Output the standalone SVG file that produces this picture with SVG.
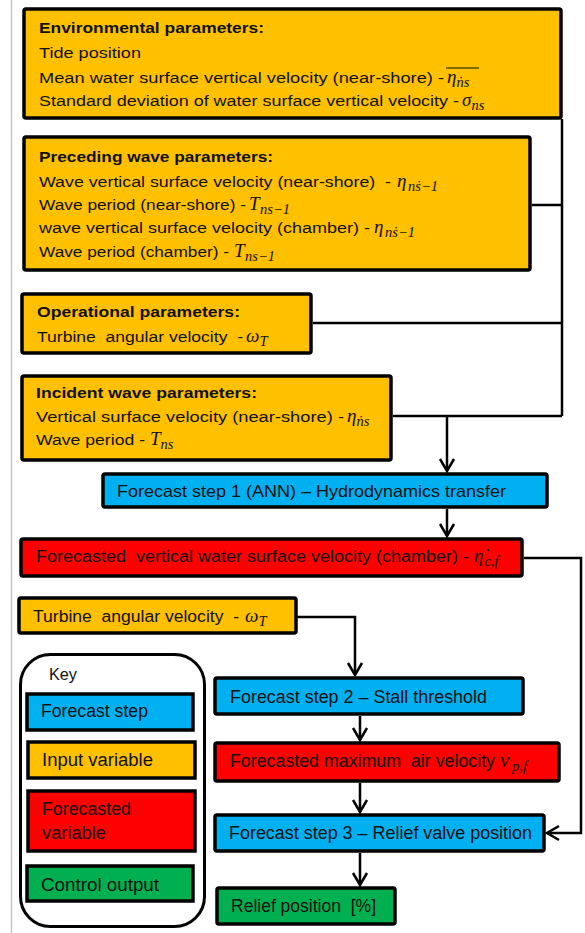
<svg xmlns="http://www.w3.org/2000/svg" width="585" height="933" viewBox="0 0 585 933">
<style>
.box{stroke:#000;stroke-width:3.5}
.or{fill:#FFC000}.bl{fill:#00B0F0}.rd{fill:#FF0000}.gr{fill:#00B050}
.t{font-family:"Liberation Sans",Arial,sans-serif;font-size:15.5px;fill:#111;white-space:pre}
.b{font-family:"Liberation Sans",Arial,sans-serif;font-size:15px;font-weight:bold;fill:#111;white-space:pre}
.k{font-family:"Liberation Sans",Arial,sans-serif;font-size:18px;fill:#111;white-space:pre}
.m{font-family:"Liberation Serif","Times New Roman",serif;font-style:italic;font-size:19px;fill:#111}
.s{font-family:"Liberation Serif","Times New Roman",serif;font-style:italic;font-size:14.5px;fill:#111}
.c{fill:none;stroke:#000;stroke-width:2.5}
</style>
<defs>
<marker id="ah" markerUnits="userSpaceOnUse" markerWidth="16" markerHeight="18" refX="13" refY="8" orient="auto" viewBox="0 0 16 16">
<path d="M1,1 L13,8 L1,15" fill="none" stroke="#000" stroke-width="2.5"/>
</marker>
</defs>
<line x1="11.5" y1="0" x2="11.5" y2="933" stroke="#c4c6cc" stroke-width="1.5"/>

<g id="connectors">
<path class="c" d="M562,119 V416"/>
<path class="c" d="M532,205 H562"/>
<path class="c" d="M313,323 H562"/>
<path class="c" d="M393,416 H562"/>
<path class="c" d="M447,416 V471" marker-end="url(#ah)"/>
<path class="c" d="M447,509 V536" marker-end="url(#ah)"/>
<path class="c" d="M524,558 H581 V833 H547" marker-end="url(#ah)"/>
<path class="c" d="M297,617 H355 V675" marker-end="url(#ah)"/>
<path class="c" d="M360,716 V740" marker-end="url(#ah)"/>
<path class="c" d="M360,783 V812" marker-end="url(#ah)"/>
<path class="c" d="M360,853 V885" marker-end="url(#ah)"/>
</g>

<g id="environmental">
<rect class="box or" x="24" y="9" width="537" height="109" rx="2"/>
<text class="b" x="39" y="33" textLength="225" lengthAdjust="spacingAndGlyphs">Environmental parameters:</text>
<text class="t" x="39" y="58" textLength="102" lengthAdjust="spacingAndGlyphs">Tide position</text>
<text class="t" x="39" y="83" textLength="405" lengthAdjust="spacingAndGlyphs">Mean water surface vertical velocity (near-shore) -</text>
<text class="m" x="447" y="83">η<tspan class="s" dy="4">ṅs</tspan></text>
<line x1="446" y1="68" x2="479" y2="68" stroke="#111" stroke-width="1.2"/>
<text class="t" x="39" y="106" textLength="420" lengthAdjust="spacingAndGlyphs">Standard deviation of water surface vertical velocity -</text>
<text class="m" x="462" y="106">σ<tspan class="s" dy="4">ns</tspan></text>
</g>

<g id="preceding">
<rect class="box or" x="24" y="137" width="506" height="133" rx="2"/>
<text class="b" x="39" y="162" textLength="234" lengthAdjust="spacingAndGlyphs">Preceding wave parameters:</text>
<text class="t" x="39" y="187" textLength="352" lengthAdjust="spacingAndGlyphs">Wave vertical surface velocity (near-shore)  -</text>
<text class="m" x="397" y="187">η<tspan class="s" dy="4" x="408">nṡ−1</tspan></text>
<text class="t" x="39" y="210" textLength="207" lengthAdjust="spacingAndGlyphs">Wave period (near-shore) -</text>
<text class="m" x="249" y="210">T<tspan class="s" dy="4" x="260">ns−1</tspan></text>
<text class="t" x="39" y="233" textLength="331" lengthAdjust="spacingAndGlyphs">wave vertical surface velocity (chamber) -</text>
<text class="m" x="374" y="233">η<tspan class="s" dy="4" x="385">nṡ−1</tspan></text>
<text class="t" x="39" y="257" textLength="190" lengthAdjust="spacingAndGlyphs">Wave period (chamber) -</text>
<text class="m" x="234" y="257">T<tspan class="s" dy="4" x="245">ns−1</tspan></text>
</g>

<g id="operational">
<rect class="box or" x="22" y="294" width="289" height="59" rx="2"/>
<text class="b" x="37" y="317" textLength="203" lengthAdjust="spacingAndGlyphs">Operational parameters:</text>
<text class="t" x="37" y="342" textLength="206" lengthAdjust="spacingAndGlyphs">Turbine  angular velocity  -</text>
<text class="m" x="246" y="342">ω<tspan class="s" dy="4">T</tspan></text>
</g>

<g id="incident">
<rect class="box or" x="22" y="376" width="369" height="84" rx="2"/>
<text class="b" x="36" y="398" textLength="221" lengthAdjust="spacingAndGlyphs">Incident wave parameters:</text>
<text class="t" x="36" y="422" textLength="308" lengthAdjust="spacingAndGlyphs">Vertical surface velocity (near-shore) -</text>
<text class="m" x="347" y="422">η<tspan class="s" dy="4">ṅs</tspan></text>
<text class="t" x="36" y="445" textLength="109" lengthAdjust="spacingAndGlyphs">Wave period -</text>
<text class="m" x="150" y="445">T<tspan class="s" dy="4">ns</tspan></text>
</g>

<g id="step1">
<rect class="box bl" x="103" y="474" width="444" height="33" rx="2"/>
<text class="t" x="117" y="497" style="font-size:16.5px" textLength="389" lengthAdjust="spacingAndGlyphs">Forecast step 1 (ANN) – Hydrodynamics transfer</text>
</g>

<g id="forecast-chamber">
<rect class="box rd" x="21" y="539" width="501" height="37" rx="2"/>
<text class="t" x="36" y="562" style="font-size:16px" textLength="433" lengthAdjust="spacingAndGlyphs">Forecasted  vertical water surface velocity (chamber) -</text>
<text class="m" x="474" y="562">η̇<tspan class="s" dy="4" dx="1">c,f</tspan></text>
</g>

<g id="turbine">
<rect class="box or" x="19" y="598" width="277" height="35" rx="2"/>
<text class="t" x="33" y="622" style="font-size:16px" textLength="206" lengthAdjust="spacingAndGlyphs">Turbine  angular velocity  -</text>
<text class="m" x="245" y="622">ω<tspan class="s" dy="4">T</tspan></text>
</g>

<g id="key">
<rect x="20.5" y="654.5" width="184" height="272" rx="30" fill="#fff" stroke="#000" stroke-width="3"/>
<text class="k" x="49" y="680" style="font-size:17px" textLength="28" lengthAdjust="spacingAndGlyphs">Key</text>
<rect class="box bl" x="27" y="694" width="166" height="36"/>
<text class="k" x="41" y="717" textLength="107" lengthAdjust="spacingAndGlyphs">Forecast step</text>
<rect class="box or" x="28" y="742" width="167" height="36"/>
<text class="k" x="42" y="766" textLength="111" lengthAdjust="spacingAndGlyphs">Input variable</text>
<rect class="box rd" x="28" y="791" width="167" height="60"/>
<text class="k" x="42" y="815" textLength="89" lengthAdjust="spacingAndGlyphs">Forecasted</text>
<text class="k" x="42" y="839" textLength="64" lengthAdjust="spacingAndGlyphs">variable</text>
<rect class="box gr" x="27" y="866" width="166" height="35"/>
<text class="k" x="41" y="891" textLength="118" lengthAdjust="spacingAndGlyphs">Control output</text>
</g>

<g id="step2">
<rect class="box bl" x="215" y="678" width="308" height="36" rx="2"/>
<text class="k" x="230" y="703" textLength="257" lengthAdjust="spacingAndGlyphs">Forecast step 2 – Stall threshold</text>
</g>

<g id="forecast-air">
<rect class="box rd" x="215" y="743" width="344" height="38" rx="2"/>
<text class="k" x="230" y="767" textLength="265" lengthAdjust="spacingAndGlyphs">Forecasted maximum  air velocity</text>
<text class="m" x="500" y="767" style="font-size:21px">v<tspan class="s" dy="4" x="512">p,f</tspan></text>
</g>

<g id="step3">
<rect class="box bl" x="215" y="815" width="329" height="36" rx="2"/>
<text class="k" x="229" y="839" textLength="303" lengthAdjust="spacingAndGlyphs">Forecast step 3 – Relief valve position</text>
</g>

<g id="relief">
<rect class="box gr" x="217" y="888" width="178" height="36" rx="2"/>
<text class="k" x="231" y="912" textLength="145" lengthAdjust="spacingAndGlyphs">Relief position  [%]</text>
</g>
</svg>
